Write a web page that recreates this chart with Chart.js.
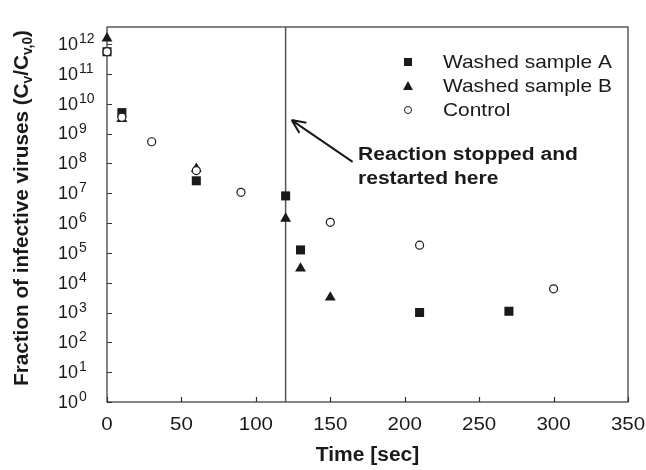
<!DOCTYPE html>
<html>
<head>
<meta charset="utf-8">
<script src="https://cdn.jsdelivr.net/npm/chart.js@4/dist/chart.umd.min.js"></script>
<style>
  html, body { margin: 0; padding: 0; background: #fff; }
  #wrap { width: 646px; height: 470px; }
</style>
</head>
<body>
<div id="wrap"><canvas id="chart" width="646" height="470"></canvas></div>
<script>
// data
var timeA = [0, 10, 60, 120, 130, 210, 270];
var sampleA = [5.5e11, 5e9, 2.6e7, 8.1e6, 1.25e5, 1.0e3, 1.1e3];
var timeB = [0, 10, 60, 120, 130, 150];
var sampleB = [1.55e12, 3.1e9, 6.5e7, 1.4e6, 3e4, 3.2e3];
var timeC = [0, 10, 30, 60, 90, 150, 210, 300];
var control = [5.5e11, 3.5e9, 5.3e8, 5.7e7, 1.07e7, 1.05e6, 1.8e5, 6.2e3];
var seriesNames = ["Washed sample A", "Washed sample B", "Control"];
var xTicks = [0, 50, 100, 150, 200, 250, 300, 350];
var yExponents = [0, 1, 2, 3, 4, 5, 6, 7, 8, 9, 10, 11, 12];
var stopTime = 120;
var noteLines = ["Reaction stopped and", "restarted here"];

function toPoints(xs, ys) {
    return xs.map(function (x, i) { return { x: x, y: ys[i] }; });
}

var INK = '#1a1a1a';
var AXIS = '#333';

// draw text stretched a little sideways like the original figure
function stretchText(ctx, text, x, y, font, align, sx) {
    ctx.save();
    ctx.font = font;
    ctx.translate(x, y);
    ctx.scale(sx, 1);
    ctx.textAlign = align;
    ctx.fillText(text, 0, 0);
    ctx.restore();
}

var decorPlugin = {
    id: 'decor',
    beforeDatasetsDraw: function (chart) {
        var ctx = chart.ctx, a = chart.chartArea;
        var xs = chart.scales.x, ys = chart.scales.y;
        ctx.save();
        // frame
        ctx.strokeStyle = AXIS;
        ctx.lineWidth = 1.2;
        ctx.strokeRect(a.left, a.top, a.right - a.left, a.bottom - a.top);
        // inward tick marks
        ctx.beginPath();
        xTicks.forEach(function (t) {
            var px = Math.round(xs.getPixelForValue(t)) + 0.5;
            ctx.moveTo(px, a.bottom);
            ctx.lineTo(px, a.bottom - 5);
        });
        yExponents.forEach(function (e) {
            var py = Math.round(ys.getPixelForValue(Math.pow(10, e))) + 0.5;
            ctx.moveTo(a.left, py);
            ctx.lineTo(a.left + 5, py);
        });
        ctx.stroke();
        // vertical line where reaction was stopped
        var vx = xs.getPixelForValue(stopTime);
        ctx.strokeStyle = '#555';
        ctx.lineWidth = 1.5;
        ctx.beginPath();
        ctx.moveTo(vx, a.top);
        ctx.lineTo(vx, a.bottom);
        ctx.stroke();
        ctx.restore();
    },
    afterDraw: function (chart) {
        var ctx = chart.ctx, a = chart.chartArea;
        var xs = chart.scales.x, ys = chart.scales.y;
        ctx.save();
        ctx.fillStyle = INK;
        ctx.textBaseline = 'middle';

        // x tick labels
        xTicks.forEach(function (t) {
            stretchText(ctx, String(t), xs.getPixelForValue(t), a.bottom + 23, '19px "Liberation Sans", Arial, sans-serif', 'center', 1.08);
        });
        // y tick labels 10^n
        yExponents.forEach(function (e) {
            var py = ys.getPixelForValue(Math.pow(10, e));
            ctx.font = '18px "Liberation Sans", Arial, sans-serif';
            ctx.textAlign = 'left';
            ctx.textBaseline = 'middle';
            ctx.fillText('10', 58, py + 1);
            var w = ctx.measureText('10').width;
            ctx.font = '14px "Liberation Sans", Arial, sans-serif';
            ctx.textBaseline = 'alphabetic';
            ctx.fillText(String(e), 58 + w + 1, py - 1);
        });

        // x axis title
        ctx.textBaseline = 'middle';
        stretchText(ctx, 'Time [sec]', (a.left + a.right) / 2, 455, 'bold 20px "Liberation Sans", Arial, sans-serif', 'center', 1.05);

        // y axis title with subscripts, rotated
        var parts = [
            { t: 'Fraction of infective viruses (C', sub: false },
            { t: 'v', sub: true },
            { t: '/C', sub: false },
            { t: 'v,0', sub: true },
            { t: ')', sub: false }
        ];
        var bigFont = 'bold 21px "Liberation Sans", Arial, sans-serif';
        var smallFont = 'bold 14px "Liberation Sans", Arial, sans-serif';
        var total = 0;
        parts.forEach(function (p) {
            ctx.font = p.sub ? smallFont : bigFont;
            p.w = ctx.measureText(p.t).width;
            total += p.w;
        });
        var span = 356;
        var k = span / total;
        ctx.save();
        ctx.translate(22, 208);
        ctx.rotate(-Math.PI / 2);
        ctx.scale(k, 1);
        ctx.textAlign = 'left';
        ctx.textBaseline = 'middle';
        var cx = -total / 2;
        parts.forEach(function (p) {
            ctx.font = p.sub ? smallFont : bigFont;
            ctx.fillText(p.t, cx, p.sub ? 6 : 0);
            cx += p.w;
        });
        ctx.restore();

        // legend
        var lx = 408, ly = 62, step = 24;
        chart.data.datasets.forEach(function (ds, i) {
            var y = ly + i * step;
            ctx.save();
            ctx.fillStyle = ds.pointBackgroundColor;
            ctx.strokeStyle = ds.pointBorderColor;
            ctx.lineWidth = 1;
            ctx.beginPath();
            if (ds.pointStyle === 'rect') {
                ctx.rect(lx - 4, y - 4, 8, 8);
                ctx.fill();
            } else if (ds.pointStyle === 'triangle') {
                ctx.moveTo(lx, y - 5);
                ctx.lineTo(lx + 5, y + 4);
                ctx.lineTo(lx - 5, y + 4);
                ctx.closePath();
                ctx.fill();
            } else {
                ctx.arc(lx, y, 3.5, 0, Math.PI * 2);
                ctx.fill();
                ctx.stroke();
            }
            ctx.restore();
            ctx.fillStyle = INK;
            ctx.textBaseline = 'middle';
            stretchText(ctx, ds.label, 443, y + 1, '19px "Liberation Sans", Arial, sans-serif', 'left', 1.1);
        });

        // annotation arrow (data coordinates)
        var x0 = xs.getPixelForValue(165), y0 = ys.getPixelForValue(Math.pow(10, 8.05));
        var x1 = xs.getPixelForValue(124), y1 = ys.getPixelForValue(Math.pow(10, 9.45));
        ctx.strokeStyle = INK;
        ctx.lineWidth = 2;
        ctx.beginPath();
        ctx.moveTo(x0, y0);
        ctx.lineTo(x1, y1);
        var ang = Math.atan2(y1 - y0, x1 - x0);
        var hl = 15, spread = 0.42;
        ctx.moveTo(x1, y1);
        ctx.lineTo(x1 - hl * Math.cos(ang - spread), y1 - hl * Math.sin(ang - spread));
        ctx.moveTo(x1, y1);
        ctx.lineTo(x1 - hl * Math.cos(ang + spread), y1 - hl * Math.sin(ang + spread));
        ctx.stroke();

        // annotation text
        ctx.fillStyle = INK;
        ctx.textBaseline = 'alphabetic';
        stretchText(ctx, noteLines[0], 358, 160, 'bold 18px "Liberation Sans", Arial, sans-serif', 'left', 1.17);
        stretchText(ctx, noteLines[1], 358, 184, 'bold 18px "Liberation Sans", Arial, sans-serif', 'left', 1.17);
        ctx.restore();
    }
};

var chart = new Chart(document.getElementById('chart').getContext('2d'), {
    type: 'scatter',
    data: {
        datasets: [{
            label: seriesNames[0],
            data: toPoints(timeA, sampleA),
            order: 2,
            pointStyle: 'rect',
            pointRadius: 6.4,
            pointBackgroundColor: INK,
            pointBorderColor: INK,
            pointBorderWidth: 0
        }, {
            label: seriesNames[1],
            data: toPoints(timeB, sampleB),
            order: 1,
            pointStyle: 'triangle',
            pointRadius: 6.3,
            pointBackgroundColor: INK,
            pointBorderColor: INK,
            pointBorderWidth: 0
        }, {
            label: seriesNames[2],
            data: toPoints(timeC, control),
            order: 0,
            pointStyle: 'circle',
            pointRadius: 4,
            pointBackgroundColor: '#fff',
            pointBorderColor: INK,
            pointBorderWidth: 1.2
        }]
    },
    options: {
        responsive: false,
        animation: false,
        clip: false,
        layout: { padding: { top: 27, right: 18, left: 0, bottom: 0 } },
        plugins: {
            legend: { display: false },
            tooltip: { enabled: false }
        },
        scales: {
            x: {
                type: 'linear',
                min: 0,
                max: 350,
                grid: { display: false },
                border: { display: false },
                ticks: { display: false },
                afterFit: function (s) { s.height = 68; }
            },
            y: {
                type: 'logarithmic',
                min: 1,
                max: Math.pow(10, 12.57),
                grid: { display: false },
                border: { display: false },
                ticks: { display: false },
                afterBuildTicks: function (s) {
                    s.ticks = yExponents.map(function (e) { return { value: Math.pow(10, e) }; });
                },
                afterFit: function (s) { s.width = 107; }
            }
        }
    },
    plugins: [decorPlugin]
});
</script>
</body>
</html>
